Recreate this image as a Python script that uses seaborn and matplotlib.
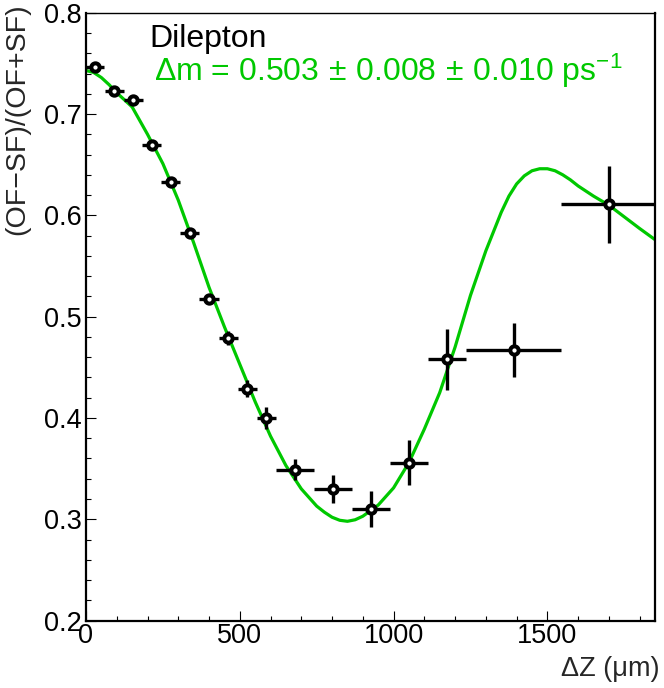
import pandas as pd
import seaborn as sns
import matplotlib.pyplot as plt
from matplotlib.ticker import MultipleLocator

# measured asymmetry per delta-z bin
dz = [29, 92, 154, 214, 276, 338, 400, 462, 524, 586, 679, 802, 926, 1050, 1174, 1391, 1699]
dz_err = [31, 31, 31, 31, 31, 31, 31, 31, 31, 31, 62, 62, 62, 62, 62, 154, 154]
asym = [0.746, 0.723, 0.714, 0.669, 0.633, 0.583, 0.517, 0.479, 0.429, 0.400,
        0.349, 0.330, 0.310, 0.356, 0.458, 0.467, 0.611]
asym_err = [0.003, 0.003, 0.004, 0.004, 0.005, 0.005, 0.005, 0.007, 0.008, 0.011,
            0.010, 0.014, 0.018, 0.022, 0.030, 0.027, 0.038]

# fit curve
fit_dz = [0, 25, 50, 75, 100, 150, 200, 250, 300, 350, 400, 450, 500, 550, 600,
          650, 700, 750, 775, 800, 825, 850, 875, 900, 950, 1000, 1050, 1100, 1150,
          1200, 1250, 1300, 1350, 1375, 1400, 1425, 1450, 1475, 1500, 1525, 1550,
          1575, 1600, 1650, 1700, 1750, 1800, 1850]
fit_asym = [0.743, 0.741, 0.736, 0.729, 0.721, 0.707, 0.680, 0.651, 0.615, 0.573,
            0.529, 0.490, 0.453, 0.416, 0.382, 0.353, 0.330, 0.313, 0.307, 0.302,
            0.299, 0.298, 0.2995, 0.303, 0.314, 0.331, 0.356, 0.389, 0.425, 0.470,
            0.521, 0.565, 0.603, 0.619, 0.631, 0.639, 0.644, 0.646, 0.646, 0.644,
            0.640, 0.635, 0.629, 0.619, 0.610, 0.5985, 0.587, 0.576]

points = pd.DataFrame({"dz": dz, "asym": asym})
fit = pd.DataFrame({"dz": fit_dz, "asym": fit_asym})

sns.set_style("ticks")
plt.rcParams["font.family"] = ["Liberation Sans", "DejaVu Sans"]
plt.rcParams["mathtext.fontset"] = "custom"
plt.rcParams["mathtext.rm"] = "Liberation Sans"
plt.rcParams["mathtext.it"] = "Liberation Sans:italic"

green = "#00c800"

fig = plt.figure(figsize=(6.64, 6.88), dpi=100)
ax = fig.add_axes([0.1295, 0.098, 0.857, 0.8835])

sns.lineplot(data=fit, x="dz", y="asym", color=green, lw=2.3, sort=False,
             estimator=None, ax=ax, zorder=2)
ax.errorbar(dz, asym, xerr=dz_err, yerr=asym_err, fmt="none", ecolor="black",
            elinewidth=2.4, capsize=0, zorder=3)
sns.scatterplot(data=points, x="dz", y="asym", marker="o", s=36, color="white",
                edgecolor="black", linewidth=2.9, ax=ax, zorder=4)

ax.set_xlim(0, 1850)
ax.set_ylim(0.2, 0.8)
ax.xaxis.set_major_locator(MultipleLocator(500))
ax.xaxis.set_minor_locator(MultipleLocator(100))
ax.yaxis.set_minor_locator(MultipleLocator(0.02))
ax.set_yticks([0.2, 0.3, 0.4, 0.5, 0.6, 0.7, 0.8])
ax.set_yticklabels(["0.2", "0.3", "0.4", "0.5", "0.6", "0.7", "0.8"])

ax.tick_params(which="both", direction="in", width=0.8, colors="black",
               labelsize=19.5, top=False, right=False)
ax.tick_params(which="major", length=7.5)
ax.tick_params(which="minor", length=3.6)
ax.tick_params(axis="x", pad=2)
ax.tick_params(axis="y", pad=3)

for side in ["left", "bottom", "right"]:
    ax.spines[side].set_linewidth(1.6)
ax.spines["top"].set_linewidth(1.0)
for s in ax.spines.values():
    s.set_color("black")

ax.set_xlabel("ΔZ (μm)", fontsize=19.5, loc="right")
ax.xaxis.set_label_coords(1.008, -0.058)
ax.set_ylabel("(OF−SF)/(OF+SF)", fontsize=20.5, loc="top")
ax.yaxis.set_label_coords(-0.098, 1.015)

ax.text(0.111, 0.943, "Dilepton", transform=ax.transAxes, fontsize=23,
        color="black", va="baseline", ha="left")
ax.text(0.119, 0.888, r"Δm = 0.503$\,\pm\,$0.008$\,\pm\,$0.010 ps$^{-1}$",
        transform=ax.transAxes, fontsize=23, color=green, va="baseline", ha="left")

fig.savefig("out.png", dpi=100)
